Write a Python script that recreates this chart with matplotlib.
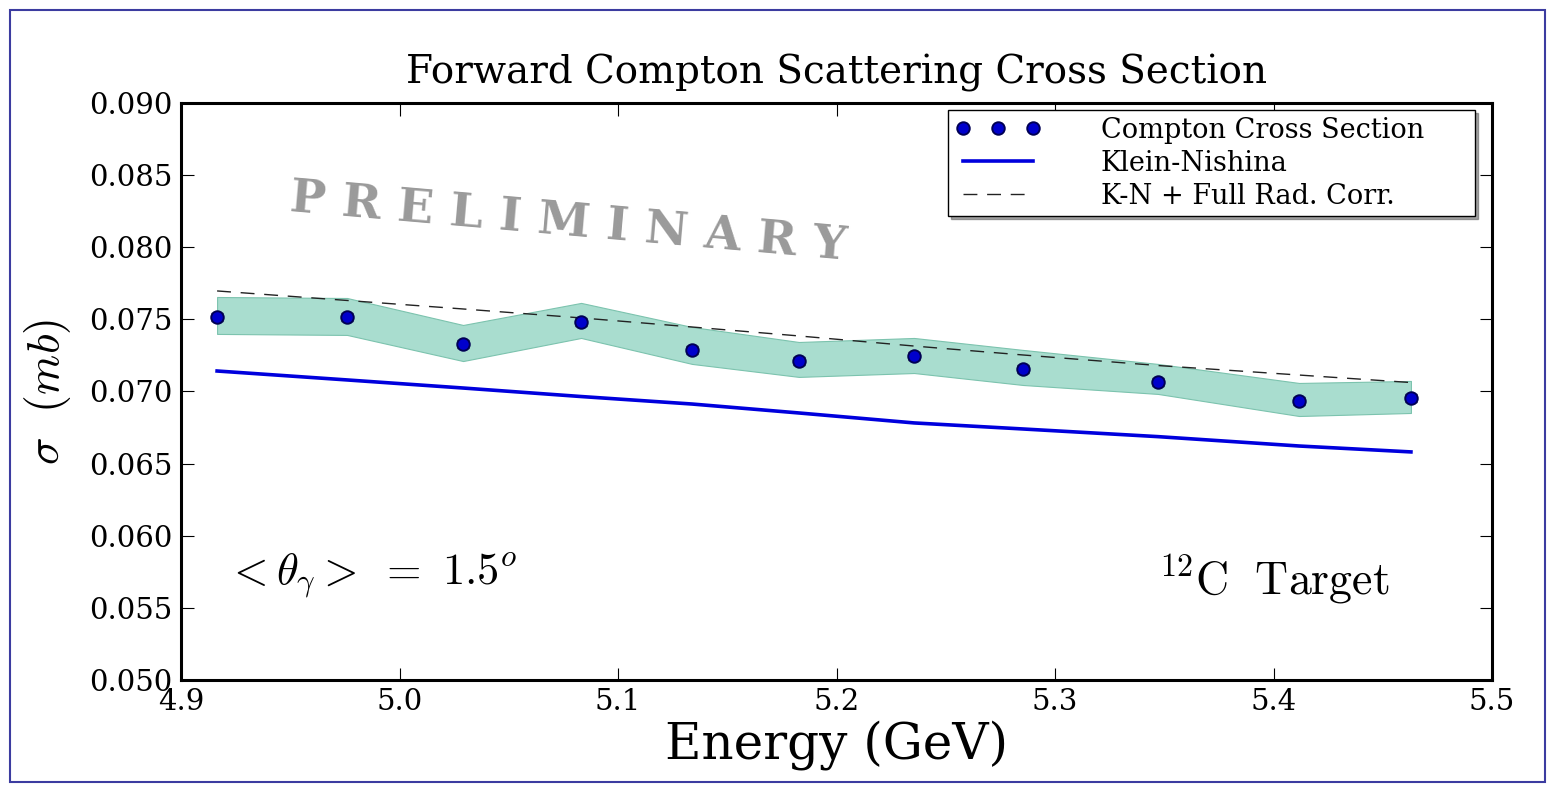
import matplotlib
matplotlib.use("Agg")
import matplotlib.pyplot as plt
from matplotlib.patches import Rectangle

plt.rcParams['font.family'] = ['DejaVu Serif']
plt.rcParams['mathtext.fontset'] = 'cm'

# energies (GeV)
energy = [4.9165, 4.9760, 5.0291, 5.0831, 5.1339, 5.1828, 5.2355, 5.2854, 5.3471, 5.4117, 5.4629]
# measured cross section (mb)
sigma = [0.07516, 0.07516, 0.07329, 0.07482, 0.07288, 0.07211, 0.07246, 0.07156, 0.07066, 0.06934, 0.06955]
sigma_err = [0.0003] * 11
# systematic band
band_hi = [0.07655, 0.07648, 0.07461, 0.07614, 0.07447, 0.07343, 0.07371, 0.07288, 0.07191, 0.07059, 0.07073]
band_lo = [0.07399, 0.07392, 0.07211, 0.07371, 0.07191, 0.07101, 0.07128, 0.07045, 0.06983, 0.06830, 0.06851]
# theory curves
klein_nishina = [0.07142, 0.07080, 0.07024, 0.06965, 0.06913, 0.06851, 0.06782, 0.06740, 0.06687, 0.06622, 0.06581]
kn_radcorr = [0.07697, 0.07631, 0.07572, 0.07510, 0.07447, 0.07385, 0.07315, 0.07253, 0.07180, 0.07114, 0.07062]

fig = plt.figure(figsize=(15.54, 7.85), dpi=100)
fig.patch.set_facecolor('white')
fig.patches.append(Rectangle((10/1554, 3/785), 1535/1554, 772/785, transform=fig.transFigure,
                             fill=False, edgecolor='#3c3ca0', lw=1.5))

ax = fig.add_axes([0.1165, 0.1338, 0.8436, 0.735])

ax.fill_between(energy, band_lo, band_hi, facecolor='#a9ddcf', edgecolor='#7cc3ae', lw=0.8)
ax.plot(energy, klein_nishina, '-', color='#0000dd', lw=2.6, label='Klein-Nishina')
ax.plot(energy, kn_radcorr, '--', color='#222222', lw=1.0, dashes=(10, 7), label='K-N + Full Rad. Corr.')
ax.errorbar(energy, sigma, yerr=sigma_err, fmt='none', ecolor='#333333', elinewidth=1, capsize=4)
ax.plot(energy, sigma, 'o', color='#0000cc', mec='#000055', mew=1.4, ms=9, ls='none',
        label='Compton Cross Section')

ax.set_xlim(4.9, 5.5)
ax.set_ylim(0.050, 0.090)
ax.set_xticks([4.9, 5.0, 5.1, 5.2, 5.3, 5.4, 5.5])
ax.set_yticks([0.050, 0.055, 0.060, 0.065, 0.070, 0.075, 0.080, 0.085, 0.090])
ax.set_yticklabels(['%.3f' % v for v in ax.get_yticks()])
ax.tick_params(direction='in', length=9, width=0.8, labelsize=21, top=True, right=True, pad=6)
for s in ax.spines.values():
    s.set_linewidth(2.2)

ax.set_title('Forward Compton Scattering Cross Section', fontsize=28, pad=14)
ax.set_xlabel('Energy (GeV)', fontsize=36, labelpad=3)
ax.set_ylabel(r'$\sigma\ \ (mb)$', fontsize=33, labelpad=12)

ax.text(0.083, 0.835, 'P R E L I M I N A R Y', transform=ax.transAxes, fontsize=34,
        fontweight='bold', color='#9a9a9a', rotation=-5, ha='left', va='center',
        rotation_mode='anchor')
ax.text(0.034, 0.18, r'${<}\theta_\gamma{>}\ =\ 1.5^o$', transform=ax.transAxes, fontsize=32,
        ha='left', va='center')
ax.text(0.922, 0.175, r'$^{12}\mathrm{C\ \ Target}$', transform=ax.transAxes, fontsize=33,
        ha='right', va='center')

handles, labels = ax.get_legend_handles_labels()
order = [2, 0, 1]
ax.legend([handles[i] for i in order], [labels[i] for i in order], loc='upper left',
          bbox_to_anchor=(0.585, 0.988, 0.402, 0.0), mode='expand', borderaxespad=0,
          numpoints=3, fontsize=19.5, shadow=True, fancybox=False, edgecolor='black',
          framealpha=1, handlelength=3.2, handletextpad=2.2,
          borderpad=0.25, labelspacing=0.22)

fig.savefig('out.png', dpi=100)
